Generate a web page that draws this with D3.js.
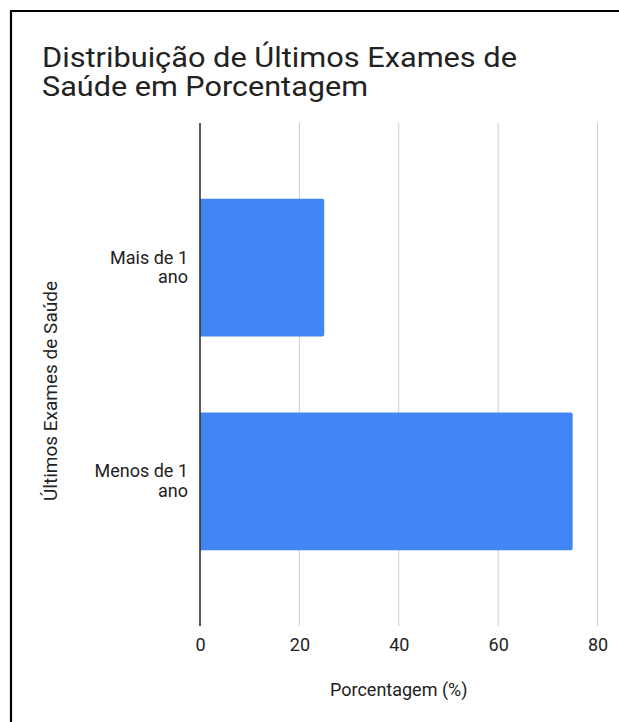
<!DOCTYPE html>
<html>
<head>
<meta charset="utf-8">
<script src="https://cdn.jsdelivr.net/npm/d3@7"></script>
<style>
  html, body { margin: 0; padding: 0; background: #fff; overflow: hidden; }
  svg { display: block; }
  text { font-family: Roboto, "Noto Sans", sans-serif; }
</style>
</head>
<body>
<script>
// ---- data ----
const categories = [["Mais de 1", "ano"], ["Menos de 1", "ano"]];
const values = [25, 75];
const xTicks = [0, 20, 40, 60, 80];
const titleLines = ["Distribuição de Últimos Exames de", "Saúde em Porcentagem"];
const xTitle = "Porcentagem (%)";
const yTitle = "Últimos Exames de Saúde";

// ---- layout ----
const W = 619, H = 722;
const plot = { left: 200, right: 597.5, top: 123, bottom: 626 };

const svg = d3.select("body").append("svg").attr("width", W).attr("height", H);
svg.append("rect").attr("width", W).attr("height", H).attr("fill", "#fff");

// frame (left + top black border)
svg.append("path").attr("d", `M11,${H} V11 H${W}`)
  .attr("fill", "none").attr("stroke", "#000").attr("stroke-width", 2.2);

// title (slightly wide-set as in the reference)
const titleLen = [475, 326];
svg.append("g").selectAll("text").data(titleLines).join("text")
  .attr("x", 42).attr("y", (d, i) => 67 + i * 29)
  .attr("font-size", 27).attr("fill", "#222")
  .attr("textLength", (d, i) => titleLen[i]).attr("lengthAdjust", "spacingAndGlyphs")
  .text(d => d);

const x = d3.scaleLinear().domain([0, 80]).range([plot.left, plot.right]);
const y = d3.scaleBand().domain(d3.range(categories.length)).range([plot.top, plot.bottom])
  .paddingInner(0.355).paddingOuter(0.355);

// gridlines
svg.append("g").selectAll("line").data(xTicks.filter(t => t !== 0)).join("line")
  .attr("x1", d => x(d)).attr("x2", d => x(d))
  .attr("y1", plot.top).attr("y2", plot.bottom)
  .attr("stroke", "#cccccc").attr("stroke-width", 1);

// bars (rounded right corners)
svg.append("g").selectAll("path").data(values).join("path")
  .attr("d", (v, i) => {
    const x0 = x(0), x1 = x(v), y0 = y(i), h = y.bandwidth(), r = 2;
    return `M${x0},${y0} H${x1 - r} Q${x1},${y0} ${x1},${y0 + r} V${y0 + h - r} Q${x1},${y0 + h} ${x1 - r},${y0 + h} H${x0} Z`;
  })
  .attr("fill", "#4285F4");

// baseline axis line
svg.append("line").attr("x1", x(0)).attr("x2", x(0)).attr("y1", plot.top).attr("y2", plot.bottom)
  .attr("stroke", "#333").attr("stroke-width", 1.6);

// x tick labels via axis
const xAxis = svg.append("g").attr("transform", `translate(0,${plot.bottom})`)
  .call(d3.axisBottom(x).tickValues(xTicks).tickSize(0).tickPadding(0).tickFormat(d3.format("d")));
xAxis.select(".domain").remove();
xAxis.selectAll("text").attr("y", 25).attr("dy", 0).attr("font-size", 18)
  .attr("fill", "#222").style("font-family", "Roboto, sans-serif");

// category labels (one text element per line)
const yl = svg.append("g");
categories.forEach((lines, i) => {
  const cy = y(i) + y.bandwidth() / 2;
  lines.forEach((ln, j) => {
    yl.append("text").attr("text-anchor", "end").attr("font-size", 18).attr("fill", "#222")
      .attr("x", 188).attr("y", cy - 4 + j * 19.5).text(ln);
  });
});

// axis titles
svg.append("text").attr("x", (plot.left + plot.right) / 2).attr("y", 696)
  .attr("text-anchor", "middle").attr("font-size", 18).attr("fill", "#222").text(xTitle);

svg.append("text").attr("transform", "translate(57,391) rotate(-90)")
  .attr("text-anchor", "middle").attr("font-size", 19).attr("fill", "#222").text(yTitle);
</script>
</body>
</html>
